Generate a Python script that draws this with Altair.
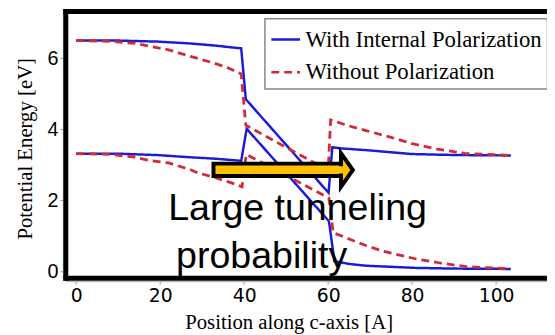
import altair as alt
import pandas as pd

# ---- data ----
series_names = ["With Internal Polarization", "Without Polarization"]

with_upper_x = [0, 10, 19.5, 27, 33, 39.3, 40.4, 60.1, 61.0, 63, 69, 75, 80, 87, 92.5, 103.5]
with_upper_y = [6.5, 6.5, 6.47, 6.42, 6.36, 6.28, 4.85, 2.22, 3.5, 3.47, 3.42, 3.36, 3.31, 3.29, 3.28, 3.27]

with_lower_x = [0, 10, 19.5, 27, 33, 39.3, 40.6, 60.2, 61.5, 65, 69, 75, 80.7, 90, 103.5]
with_lower_y = [3.32, 3.32, 3.28, 3.22, 3.18, 3.12, 4.02, 1.42, 0.3, 0.22, 0.17, 0.14, 0.11, 0.09, 0.08]

without_upper_x = [0, 8, 14, 18, 22, 27.4, 33, 36, 39.3, 40.4, 60.0, 60.6, 65, 69, 75, 80, 86, 92.5, 103.5]
without_upper_y = [6.5, 6.48, 6.42, 6.33, 6.24, 6.05, 5.86, 5.74, 5.56, 4.12, 2.85, 4.27, 4.1, 3.97, 3.78, 3.6, 3.45, 3.33, 3.27]

without_lower_x = [0, 8, 14, 17, 22, 27, 29, 33, 37, 39.5, 40.5, 60.2, 61.2, 65, 69, 73, 81, 87, 92.5, 103.5]
without_lower_y = [3.32, 3.3, 3.22, 3.14, 3.06, 2.88, 2.78, 2.65, 2.5, 2.39, 3.3, 2.07, 1.1, 0.92, 0.74, 0.58, 0.36, 0.24, 0.15, 0.08]

x_ticks = [0, 20, 40, 60, 80, 100]
y_ticks = [0, 2, 4, 6]

note_lines = ["Large tunneling", "probability"]
note_x = [21.9, 23.8]
note_y = [1.458, 0.111]

arrow_x = [32.7, 64.2]
arrow_y = [3.04, 2.69]
arrow_inner_x = [55.0, 64.6]
arrow_inner_y = [2.965, 2.765]
arrow_head_x = [64.47]
arrow_head_y = [2.861]

# ---- build tables ----
rows = []
curves = [
    (series_names[0], "upper", with_upper_x, with_upper_y),
    (series_names[0], "lower", with_lower_x, with_lower_y),
    (series_names[1], "upper", without_upper_x, without_upper_y),
    (series_names[1], "lower", without_lower_x, without_lower_y),
]
for s, b, xs_, ys_ in curves:
    for i, (a, c) in enumerate(zip(xs_, ys_)):
        rows.append({"x": a, "y": c, "series": s, "band": b, "idx": i})
df = pd.DataFrame(rows)

W, H = 487, 270
xscale = alt.Scale(domain=[-2.47, 112.12], nice=False, zero=False)
yscale = alt.Scale(domain=[-0.1806, 7.319], nice=False, zero=False)
color_scale = alt.Scale(domain=series_names, range=["#1c1cd6", "#d42a35"])
dash_scale = alt.Scale(domain=series_names, range=[[1, 0], [8, 5]])

x_axis = alt.Axis(values=x_ticks, title="Position along c-axis [A]", grid=False,
                  labelFont="DejaVu Sans", labelFontSize=19, labelColor="black",
                  tickColor="#999", tickSize=3, domainColor="#aaa", offset=3,
                  labelPadding=3, titleFont="Liberation Serif", titleFontSize=21,
                  titleFontWeight="normal", titleColor="black", titleX=225.5, titleY=47.5,
                  titleBaseline="alphabetic", titleAlign="center")
y_axis = alt.Axis(values=y_ticks, title="Potential Energy [eV]", grid=False,
                  labelFont="Liberation Sans", labelFontSize=20, labelColor="black",
                  tickColor="#999", tickSize=3, domainColor="#aaa", offset=3,
                  labelPadding=2, titleFont="Liberation Serif", titleFontSize=21,
                  titleFontWeight="normal", titleColor="black", titleAngle=270,
                  titleX=-31.5, titleY=138.5, titleBaseline="alphabetic", titleAlign="center")

def line_layer(name, width):
    return alt.Chart(df[df.series == name]).mark_line(strokeWidth=width).encode(
        x=alt.X("x:Q", scale=xscale, axis=x_axis),
        y=alt.Y("y:Q", scale=yscale, axis=y_axis),
        color=alt.Color("series:N", scale=color_scale, title=None),
        strokeDash=alt.StrokeDash("series:N", scale=dash_scale, title=None),
        detail="band:N",
        order="idx:Q",
    )

blue = line_layer(series_names[0], 2.5)
red = line_layer(series_names[1], 2.8)

note_df = pd.DataFrame({"x": note_x, "y": note_y, "t": note_lines})
notes = alt.Chart(note_df).mark_text(align="left", baseline="alphabetic",
                                     font="Liberation Sans", fontSize=38, color="black").encode(
    x=alt.X("x:Q", scale=xscale), y=alt.Y("y:Q", scale=yscale), text="t:N")

arrow_df = pd.DataFrame({"x": [arrow_x[0]], "x2": [arrow_x[1]], "y": [arrow_y[0]], "y2": [arrow_y[1]]})
arrow_body = alt.Chart(arrow_df).mark_rect(fill="#FFC000", stroke="black", strokeWidth=4).encode(
    x=alt.X("x:Q", scale=xscale), x2="x2:Q", y=alt.Y("y:Q", scale=yscale), y2="y2:Q")

head_df = pd.DataFrame({"x": arrow_head_x, "y": arrow_head_y})
arrow_head = alt.Chart(head_df).mark_point(
    shape="M -0.353 -1 L 0.353 0 L -0.353 1 Z", size=1156, filled=True,
    fill="#FFC000", stroke="black", strokeWidth=4, opacity=1, strokeJoin="miter").encode(
    x=alt.X("x:Q", scale=xscale), y=alt.Y("y:Q", scale=yscale))

inner_df = pd.DataFrame({"x": [arrow_inner_x[0]], "x2": [arrow_inner_x[1]],
                         "y": [arrow_inner_y[0]], "y2": [arrow_inner_y[1]]})
arrow_inner = alt.Chart(inner_df).mark_rect(fill="#FFC000").encode(
    x=alt.X("x:Q", scale=xscale), x2="x2:Q", y=alt.Y("y:Q", scale=yscale), y2="y2:Q")

frame_top = alt.Chart(note_df.head(1)).mark_rule(color="black", strokeWidth=5, strokeCap="square").encode(
    x=alt.value(0), x2=alt.value(W + 10), y=alt.value(0))
frame_left = alt.Chart(note_df.head(1)).mark_rule(color="black", strokeWidth=5, strokeCap="square").encode(
    x=alt.value(0), y=alt.value(0), y2=alt.value(H))
frame_bottom = alt.Chart(note_df.head(1)).mark_rule(color="black", strokeWidth=5, strokeCap="square").encode(
    x=alt.value(0), x2=alt.value(W + 10), y=alt.value(H))

chart = alt.layer(blue, red, notes, arrow_body, arrow_head, arrow_inner,
                  frame_top, frame_left, frame_bottom).properties(
    width=W, height=H,
    autosize=alt.AutoSizeParams(type="none"),
    padding={"left": 58.5, "top": 1.5, "right": 0, "bottom": 55},
    background="white",
).configure_view(stroke=None).configure_legend(
    orient="none", legendX=201.5, legendY=7.5, padding=5,
    fillColor="white", strokeColor="#888", strokeWidth=1.5,
    labelFont="Liberation Serif", labelFontSize=23, labelColor="black",
    symbolType="stroke", symbolSize=841, symbolStrokeWidth=2.5,
    rowPadding=5, labelOffset=4, labelLimit=400,
)

chart.save("out.html", embed_options={"renderer": "svg", "actions": False})
